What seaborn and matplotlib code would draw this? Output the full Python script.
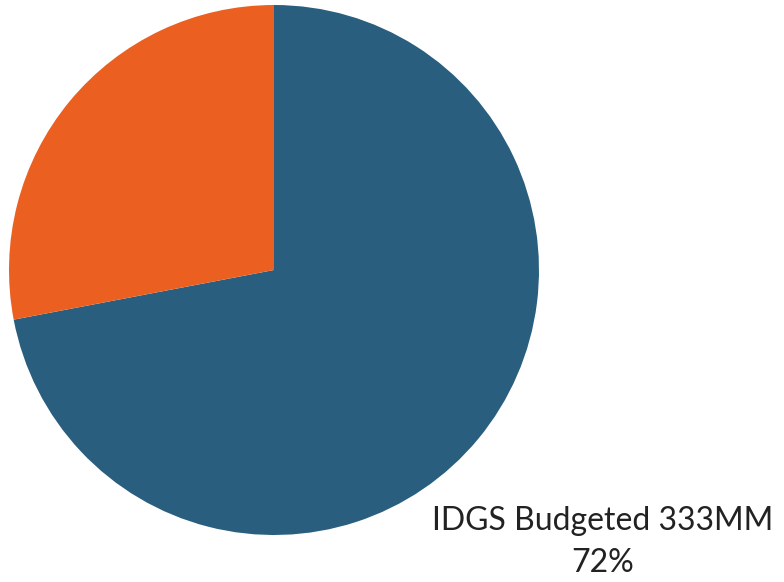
import matplotlib
matplotlib.use("Agg")
import matplotlib.pyplot as plt
import seaborn as sns

labels = ["IDGS Budgeted 333MM\n72%", ""]
shares = [72, 28]
colors = ["#295e7e", "#eb6020"]

sns.set_theme(style="white")
plt.rcParams['font.family'] = ['Lato', 'DejaVu Sans']

fig = plt.figure(figsize=(7.84, 5.82), dpi=100)
ax = fig.add_axes([0, 0, 1, 1])
wedges, texts = ax.pie(shares, labels=labels, colors=colors, startangle=90,
                       counterclock=False, labeldistance=1.61,
                       wedgeprops=dict(linewidth=0),
                       textprops=dict(fontsize=23, color="#222222"))
for t in texts:
    t.set_ha("center")
    t.set_va("center")
    t.set_linespacing(1.5)

ax.set_aspect("auto")
ax.set_xlim(-274 / 265, (784 - 274) / 265)
ax.set_ylim((270 - 582) / 265, 270 / 265)
ax.axis("off")

fig.savefig("out.png", dpi=100)
